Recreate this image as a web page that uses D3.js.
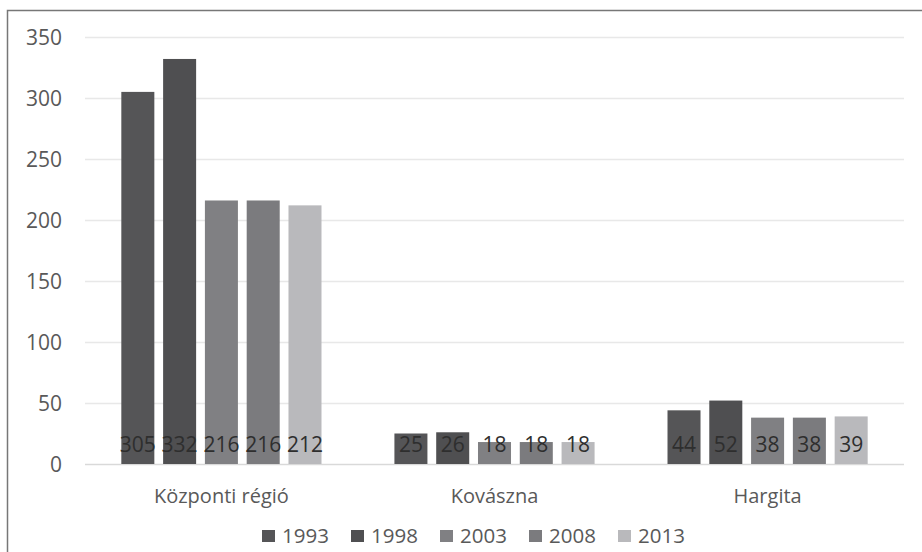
<!DOCTYPE html>
<html><head><meta charset="utf-8">
<script src="https://cdn.jsdelivr.net/npm/d3@7"></script>
<style>body{margin:0;background:#fff;}svg{display:block;font-family:"Open Sans",sans-serif;}</style>
</head><body><svg id="c" width="922" height="552"></svg>
<script>
const categories = ["Központi régió", "Kovászna", "Hargita"];
const years = ["1993", "1998", "2003", "2008", "2013"];
const v1993 = [305, 25, 44];
const v1998 = [332, 26, 52];
const v2003 = [216, 18, 38];
const v2008 = [216, 18, 38];
const v2013 = [212, 18, 39];
const yTicks = [0, 50, 100, 150, 200, 250, 300, 350];
const colors = ["#555557", "#4f4f51", "#808083", "#7b7b7e", "#b9b9bc"];

const series = [v1993, v1998, v2003, v2008, v2013];
const svg = d3.select("#c");
// frame
svg.append("path").attr("d", "M7.5,552V10.5H922").attr("fill", "none").attr("stroke", "#777").attr("stroke-width", 1.5);

const x0 = d3.scaleBand().domain(categories).range([85, 904]).paddingInner(0.267).paddingOuter(0.133);
const x1 = d3.scaleBand().domain(years).range([0, x0.bandwidth()]).paddingInner(0.21).paddingOuter(0);
const y = d3.scaleLinear().domain([0, 350]).range([464, 37]);

const grid = svg.append("g");
grid.selectAll("line").data(yTicks).join("line")
  .attr("x1", 85).attr("x2", 904)
  .attr("y1", d => Math.round(y(d)) + 0.5).attr("y2", d => Math.round(y(d)) + 0.5)
  .attr("stroke", d => d === 0 ? "#d9d9d9" : "#e8e8e8").attr("stroke-width", 1.3);

const yAxis = d3.axisLeft(y).tickValues(yTicks).tickSize(0).tickPadding(0);
const ya = svg.append("g").attr("transform", "translate(62,0)").call(yAxis);
ya.select(".domain").remove();
ya.selectAll("text").attr("font-size", 21).attr("fill", "#595959").attr("font-family", "Open Sans, sans-serif").attr("dy", "0.35em");

const groups = svg.append("g").selectAll("g").data(categories).join("g")
  .attr("transform", d => `translate(${x0(d)},0)`);
groups.each(function(cat, ci) {
  const g = d3.select(this);
  years.forEach((yr, si) => {
    const val = series[si][ci];
    g.append("rect").attr("x", x1(yr)).attr("width", x1.bandwidth())
      .attr("y", y(val)).attr("height", y(0) - y(val)).attr("fill", colors[si]);
    g.append("text").attr("x", x1(yr) + x1.bandwidth() / 2).attr("y", 444.5)
      .attr("text-anchor", "middle").attr("dy", "0.35em")
      .attr("font-size", 21).attr("fill", "#2e2e2e").text(val);
  });
});

const xAxis = d3.axisBottom(x0).tickSize(0).tickPadding(0);
const xa = svg.append("g").attr("transform", "translate(0,495.5)").call(xAxis);
xa.select(".domain").remove();
xa.selectAll("text").attr("font-size", 20).attr("fill", "#595959").attr("font-family", "Open Sans, sans-serif").attr("dy", "0.35em");

const legendX = d3.scalePoint().domain(years).range([262, 618]);
const leg = svg.append("g").selectAll("g").data(years).join("g")
  .attr("transform", d => `translate(${legendX(d)},536)`);
leg.append("rect").attr("x", 0).attr("y", -6).attr("width", 13).attr("height", 12).attr("fill", (d, i) => colors[i]);
leg.append("text").attr("x", 20).attr("dy", "0.35em").attr("font-size", 20.5).attr("fill", "#595959").text(d => d);
</script></body></html>
